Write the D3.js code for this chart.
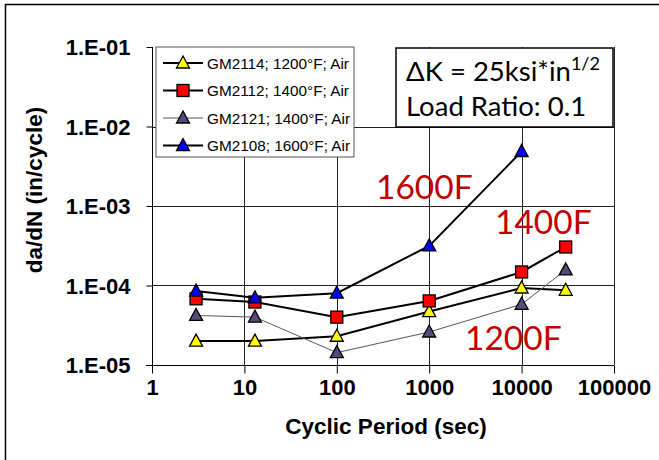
<!DOCTYPE html>
<html><head><meta charset="utf-8">
<script src="https://cdn.jsdelivr.net/npm/d3@7"></script>
<style>
body{margin:0;background:#fff;}
svg{display:block;}
</style></head>
<body>
<svg id="chart" width="659" height="460"></svg>
<script>
const periods = [3, 13, 100, 1000, 10000, 30000];
const gm2114 = [2.0e-5, 2.0e-5, 2.3e-5, 4.7e-5, 9.3e-5, 8.7e-5];
const gm2112 = [6.8e-5, 6.2e-5, 4.0e-5, 6.4e-5, 1.48e-4, 3.05e-4];
const gm2121 = [4.2e-5, 4.0e-5, 1.43e-5, 2.6e-5, 5.8e-5, 1.57e-4];
const gm2108 = [8.5e-5, 7.0e-5, 8.0e-5, 3.15e-4, 4.85e-3];
const seriesNames = ["GM2114; 1200°F; Air", "GM2112; 1400°F; Air", "GM2121; 1400°F; Air", "GM2108; 1600°F; Air"];
const xTicks = [1, 10, 100, 1000, 10000, 100000];
const yTicks = [1e-5, 1e-4, 1e-3, 1e-2, 1e-1];
const yTickLabels = ["1.E-05", "1.E-04", "1.E-03", "1.E-02", "1.E-01"];
const tempLabels = ["1600F", "1400F", "1200F"];

const styles = [
  {fill:"#ffff00", shape:"tri", lw:2, lc:"#000"},
  {fill:"#ff0000", shape:"sq", lw:2, lc:"#000"},
  {fill:"#554a78", shape:"tri", lw:1, lc:"#555"},
  {fill:"#0000ff", shape:"tri", lw:2, lc:"#000"}
];
const seriesData = [gm2114, gm2112, gm2121, gm2108];

const svg = d3.select("#chart");
const x = d3.scaleLog().domain([1, 1e5]).range([152, 614]);
const y = d3.scaleLog().domain([1e-5, 1e-1]).range([365, 47]);

// outer frame
svg.append("path").attr("d","M5.5,470V4.5H670").attr("fill","none").attr("stroke","#000").attr("stroke-width",1.5);

// gridlines
const grid = svg.append("g").attr("stroke","#222").attr("stroke-width",1);
grid.selectAll(".hg").data(yTicks.slice(1,4)).join("line")
  .attr("x1",152).attr("x2",614).attr("y1",d=>Math.round(y(d))+0.5).attr("y2",d=>Math.round(y(d))+0.5);
grid.selectAll(".vg").data(xTicks.slice(1)).join("line")
  .attr("y1",47).attr("y2",365).attr("x1",d=>Math.round(x(d))+0.5).attr("x2",d=>Math.round(x(d))+0.5);

const fontB = "'Liberation Sans', Arial, sans-serif";

// axes
const xAxis = svg.append("g").attr("transform","translate(0,365.5)");
xAxis.call(d3.axisBottom(x).tickValues(xTicks).tickFormat(d=>String(d)).tickSize(8).tickSizeOuter(0));
xAxis.select(".domain").attr("stroke","#000").attr("d","M146,0H614");
xAxis.selectAll(".tick line").attr("stroke","#000");
xAxis.selectAll(".tick text").attr("y",14).attr("dy","0.71em")
  .style("font-family",fontB).style("font-size","22px").style("font-weight","bold").attr("fill","#000");

const yAxis = svg.append("g").attr("transform","translate(152.5,0)");
yAxis.call(d3.axisLeft(y).tickValues(yTicks).tickFormat((d,i)=>yTickLabels[i]).tickSize(6).tickSizeOuter(0));
yAxis.select(".domain").attr("stroke","#000").attr("d","M0,47V373");
yAxis.selectAll(".tick line").attr("stroke","#000");
yAxis.selectAll(".tick text").attr("x",-22).attr("dy","0.36em")
  .style("font-family",fontB).style("font-size","22px").style("font-weight","bold").attr("fill","#000");

// axis titles
svg.append("text").attr("x",386).attr("y",434).attr("text-anchor","middle")
  .style("font-family",fontB).style("font-size","22.5px").style("font-weight","bold")
  .text("Cyclic Period (sec)");
svg.append("text").attr("transform","translate(42,190) rotate(-90)").attr("text-anchor","middle")
  .style("font-family",fontB).style("font-size","22.5px").style("font-weight","bold")
  .text("da/dN (in/cycle)");

function marker(g, shape, fill, cx, cy){
  if(shape==="tri"){
    g.append("path").attr("d",`M${cx},${cy-7}L${cx+6.5},${cy+5}L${cx-6.5},${cy+5}Z`)
      .attr("fill",fill).attr("stroke","#000").attr("stroke-width",1.3);
  } else {
    g.append("rect").attr("x",cx-6).attr("y",cy-6).attr("width",12).attr("height",12)
      .attr("fill",fill).attr("stroke","#000").attr("stroke-width",1.3);
  }
}

// series
const line = d3.line().x(d=>x(d[0])).y(d=>y(d[1]));
seriesData.forEach((vals,i)=>{
  const pts = vals.map((v,j)=>[periods[j], v]);
  const s = styles[i];
  const g = svg.append("g");
  g.append("path").attr("d", line(pts)).attr("fill","none").attr("stroke",s.lc).attr("stroke-width",s.lw);
  pts.forEach(p=>marker(g, s.shape, s.fill, x(p[0]), y(p[1])));
});

// legend
const lg = svg.append("g");
lg.append("rect").attr("x",156).attr("y",47).attr("width",198).attr("height",110)
  .attr("fill","#fff").attr("stroke","#555").attr("stroke-width",1);
seriesNames.forEach((n,i)=>{
  const yy = 63 + i*27.5;
  const s = styles[i];
  lg.append("line").attr("x1",163).attr("x2",203).attr("y1",yy).attr("y2",yy).attr("stroke",s.lc).attr("stroke-width",s.lw);
  marker(lg, s.shape, s.fill, 183, yy);
  lg.append("text").attr("x",207).attr("y",yy).attr("dy","0.36em")
    .style("font-family",fontB).style("font-size","15.3px").attr("fill","#000")
    .text(n);
});

// annotation box
const ab = svg.append("g");
ab.append("rect").attr("x",396).attr("y",48).attr("width",217).attr("height",79)
  .attr("fill","#fff").attr("stroke","#000").attr("stroke-width",1.5);
const t1 = ab.append("text").attr("x",406).attr("y",81)
  .style("font-family","Lato, 'Open Sans', sans-serif").style("font-size","27.5px").attr("fill","#000");
t1.append("tspan").text("ΔK = 25ksi*in");
t1.append("tspan").attr("dy",-11).style("font-size","18px").text("1/2");
ab.append("text").attr("x",406).attr("y",116)
  .style("font-family","Lato, 'Open Sans', sans-serif").style("font-size","27.5px").attr("fill","#000")
  .text("Load Ratio: 0.1");

// temperature labels
const tl = [[376, 199], [495, 234], [465, 350]];
tempLabels.forEach((t,i)=>{
  svg.append("text").attr("x",tl[i][0]).attr("y",tl[i][1])
    .style("font-family","Lato, 'Open Sans', sans-serif").style("font-size","33.5px").attr("fill","#c00000")
    .text(t);
});
</script>
</body></html>
